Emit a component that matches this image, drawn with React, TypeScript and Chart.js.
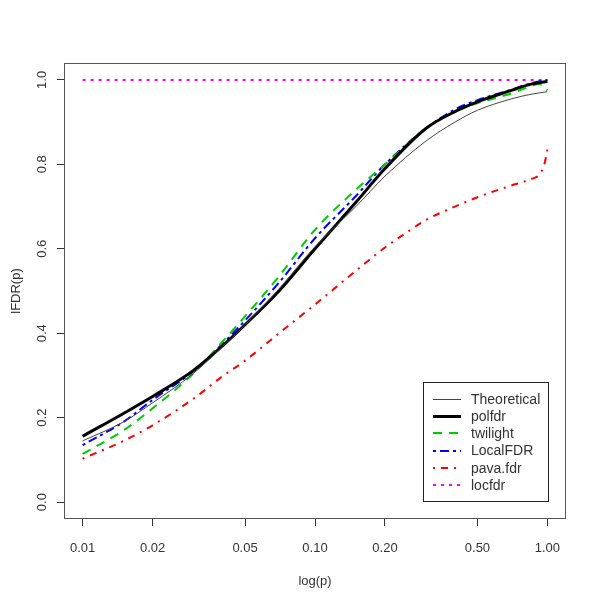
import React, { useEffect, useRef } from "react";
import { Chart, registerables } from "chart.js";
Chart.register(...registerables);

// ---- data ----
const pValues = [0.01, 0.015, 0.02, 0.03, 0.04, 0.05, 0.07, 0.1, 0.15, 0.2, 0.3, 0.4, 0.5, 0.7, 0.85, 1.0];
const theoretical = [0.145, 0.19, 0.235, 0.305, 0.368, 0.42, 0.505, 0.605, 0.7, 0.772, 0.855, 0.9, 0.928, 0.955, 0.966, 0.972];
const polfdr = [0.156, 0.21, 0.25, 0.312, 0.37, 0.42, 0.5, 0.6, 0.71, 0.79, 0.885, 0.925, 0.948, 0.975, 0.99, 0.996];
const twilightP = [0.01, 0.015, 0.02, 0.03, 0.04, 0.05, 0.07, 0.1, 0.15, 0.2, 0.3, 0.4, 0.5, 0.7, 0.85, 0.92, 0.97, 1.0];
const twilight = [0.114, 0.17, 0.222, 0.305, 0.38, 0.44, 0.535, 0.645, 0.74, 0.8, 0.885, 0.925, 0.945, 0.968, 0.985, 0.99, 0.985, 0.975];
const localFDR = [0.135, 0.19, 0.242, 0.31, 0.375, 0.43, 0.52, 0.625, 0.725, 0.8, 0.885, 0.93, 0.952, 0.977, 0.992, 1.0];
const pavaP = [0.01, 0.015, 0.02, 0.03, 0.04, 0.05, 0.07, 0.1, 0.15, 0.2, 0.25, 0.3, 0.4, 0.5, 0.7, 0.85, 0.92, 0.97, 1.0];
const pavaFdr = [0.103, 0.145, 0.182, 0.245, 0.298, 0.335, 0.4, 0.468, 0.548, 0.603, 0.64, 0.668, 0.7, 0.722, 0.75, 0.765, 0.775, 0.8, 0.835];
const locfdrP = [0.01, 1.0];
const locfdr = [1.0, 1.0];

const xTicks = [0.01, 0.02, 0.05, 0.1, 0.2, 0.5, 1.0];
const xTickLabels = ["0.01", "0.02", "0.05", "0.10", "0.20", "0.50", "1.00"];
const yTicks = [0, 0.2, 0.4, 0.6, 0.8, 1.0];
const yTickLabels = ["0.0", "0.2", "0.4", "0.6", "0.8", "1.0"];

const FONT = "'Liberation Sans', Arial, sans-serif";
const TEXT = "#333";

const pts = (xs: number[], ys: number[]) => xs.map((x, i) => ({ x, y: ys[i] }));

export default function App() {
  const ref = useRef<HTMLCanvasElement>(null);
  useEffect(() => {
    if (!ref.current) return;
    const boxPlugin = {
      id: "rbox",
      afterDatasetsDraw(chart: any) {
        const { ctx, chartArea: a } = chart;
        ctx.save();
        ctx.strokeStyle = "#555";
        ctx.lineWidth = 1;
        ctx.strokeRect(Math.round(a.left) + 0.5, Math.round(a.top) + 0.5, Math.round(a.right - a.left) - 1, Math.round(a.bottom - a.top) - 1);
        // y tick labels (rotated, like R)
        const ys = chart.scales.y;
        ctx.fillStyle = TEXT;
        ctx.font = `13px ${FONT}`;
        ctx.textAlign = "center";
        ctx.textBaseline = "middle";
        yTicks.forEach((v, i) => {
          const py = ys.getPixelForValue(v);
          ctx.save();
          ctx.translate(42, py);
          ctx.rotate(-Math.PI / 2);
          ctx.fillText(yTickLabels[i], 0, 0);
          ctx.restore();
        });
        // legend
        const lx = 423, ly = 382, lw = 125, lh = 119;
        ctx.fillStyle = "#fff";
        ctx.fillRect(lx, ly, lw, lh);
        ctx.strokeStyle = "#222";
        ctx.strokeRect(lx + 0.5, ly + 0.5, lw, lh);
        chart.data.datasets.forEach((ds: any, i: number) => {
          const ry = 399 + i * 17.2;
          ctx.save();
          ctx.strokeStyle = ds.borderColor;
          ctx.lineWidth = ds.borderWidth;
          ctx.setLineDash(ds.borderDash || []);
          ctx.beginPath();
          ctx.moveTo(433, Math.round(ry) + (ds.borderWidth % 2 ? 0.5 : 0));
          ctx.lineTo(461, Math.round(ry) + (ds.borderWidth % 2 ? 0.5 : 0));
          ctx.stroke();
          ctx.restore();
          ctx.fillStyle = TEXT;
          ctx.font = `14px ${FONT}`;
          ctx.textAlign = "left";
          ctx.textBaseline = "middle";
          ctx.fillText(ds.label, 471, ry + 1);
        });
        ctx.restore();
      },
    };

    const common = { pointRadius: 0, fill: false, cubicInterpolationMode: "monotone" as const };
    const chart = new Chart(ref.current, {
      type: "line",
      data: {
        datasets: [
          { label: "Theoretical", data: pts(pValues, theoretical), borderColor: "#444", borderWidth: 1, ...common },
          { label: "polfdr", data: pts(pValues, polfdr), borderColor: "#000", borderWidth: 3, ...common },
          { label: "twilight", data: pts(twilightP, twilight), borderColor: "#00CD00", borderWidth: 2, borderDash: [9, 7], ...common },
          { label: "LocalFDR", data: pts(pValues, localFDR), borderColor: "#0000FF", borderWidth: 2, borderDash: [3, 4, 9, 4], ...common },
          { label: "pava.fdr", data: pts(pavaP, pavaFdr), borderColor: "#FF0000", borderWidth: 2, borderDash: [2, 6, 7, 6], ...common },
          { label: "locfdr", data: pts(locfdrP, locfdr), borderColor: "#FF00FF", borderWidth: 2, borderDash: [3, 5], ...common },
        ],
      },
      options: {
        animation: false,
        responsive: false,
        maintainAspectRatio: false,
        layout: { padding: { left: 0, right: 34, top: 63, bottom: 0 } },
        plugins: { legend: { display: false }, tooltip: { enabled: false } },
        scales: {
          x: {
            type: "logarithmic",
            min: Math.pow(10, -2.08),
            max: Math.pow(10, 0.08),
            afterBuildTicks: (s: any) => {
              s.ticks = xTicks.map((v) => ({ value: v }));
            },
            afterFit: (s: any) => {
              s.height = 80;
            },
            grid: { drawOnChartArea: false, drawTicks: true, tickLength: 7, tickColor: "#333", color: "#333" },
            border: { display: false },
            ticks: {
              autoSkip: false,
              maxRotation: 0,
              minRotation: 0,
              padding: 15,
              color: TEXT,
              font: { family: FONT, size: 13 },
              callback: (v: any) => {
                const i = xTicks.findIndex((t) => Math.abs(t - Number(v)) < 1e-9);
                return i >= 0 ? xTickLabels[i] : "";
              },
            },
            title: { display: true, text: "log(p)", color: TEXT, font: { family: FONT, size: 13 }, padding: { top: 0, bottom: 10 } },
          },
          y: {
            type: "linear",
            min: -0.04,
            max: 1.04,
            afterBuildTicks: (s: any) => {
              s.ticks = yTicks.map((v) => ({ value: v }));
            },
            afterFit: (s: any) => {
              s.width = 64;
            },
            grid: { drawOnChartArea: false, drawTicks: true, tickLength: 7, tickColor: "#333", color: "#333" },
            border: { display: false },
            ticks: { display: false },
            title: { display: true, text: "lFDR(p)", color: TEXT, font: { family: FONT, size: 13 }, padding: { top: 9, bottom: 0 } },
          },
        },
      },
      plugins: [boxPlugin],
    } as any);
    return () => chart.destroy();
  }, []);
  return (
    <div style={{ position: "absolute", left: 0, top: 0, width: 600, height: 599, background: "#fff" }}>
      <canvas ref={ref} width={600} height={599} style={{ display: "block" }} />
    </div>
  );
}
